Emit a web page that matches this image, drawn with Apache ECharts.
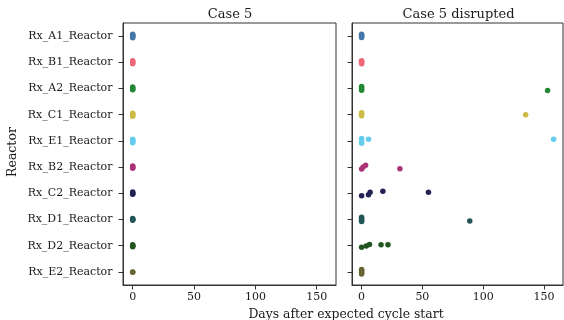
<!DOCTYPE html>
<html><head><meta charset="utf-8">
<script src="https://cdn.jsdelivr.net/npm/echarts@6/dist/echarts.min.js"></script>
<style>html,body{margin:0;padding:0;background:#fff}#c{width:564px;height:320px}</style>
</head><body><div id="c"></div>
<script>
const reactors = ['Rx_A1_Reactor','Rx_B1_Reactor','Rx_A2_Reactor','Rx_C1_Reactor','Rx_E1_Reactor','Rx_B2_Reactor','Rx_C2_Reactor','Rx_D1_Reactor','Rx_D2_Reactor','Rx_E2_Reactor'];
const colors = ['#4477AA','#EE6677','#228833','#CCBB44','#66CCEE','#AA3377','#222255','#225555','#225522','#666633'];
const xTicks = [0,50,100,150];
const panelTitles = ['Case 5','Case 5 disrupted'];

// Case 5: days after expected cycle start, and strip jitter (category units)
const case5Days = [
  [0,0,0,0,0],[0,0,0,0],[0,0,0,0],[0,0,0,0],[0,0,0,0,0],
  [0,0,0,0],[0,0,0,0],[0,0,0,0],[0,0,0,0],[0,0]
];
const case5Jitter = [
  [-0.07,-0.03,0.0,0.03,0.06],[-0.06,-0.02,0.02,0.06],[-0.06,-0.02,0.02,0.05],[-0.06,-0.02,0.02,0.06],[-0.06,-0.02,0.01,0.04,0.07],
  [-0.04,-0.01,0.02,0.04],[-0.05,-0.01,0.02,0.04],[-0.04,-0.01,0.01,0.03],[-0.04,-0.01,0.02,0.04],[0.0,0.01]
];
// Case 5 disrupted
const disruptedDays = [
  [0,0,0,0],[0,0,0,0],[0,0,0,0,153],[0,0,0,135],[0,0,0,5.7,158],
  [0,1.3,3.3,31.5],[0,5.7,7,17.5,55],[0,0,0,0,89],[0,3.8,6.5,16,21.7],[0,0,0,0,0]
];
const disruptedJitter = [
  [-0.07,-0.03,0.02,0.05],[-0.06,-0.02,0.02,0.06],[-0.08,-0.03,0.02,0.07,0.08],[-0.07,-0.02,0.04,0.0],[-0.09,0.02,0.09,-0.06,-0.06],
  [0.07,0.0,-0.07,0.06],[0.09,0.06,-0.04,-0.08,-0.04],[-0.09,-0.03,0.03,0.08,0.06],[0.06,0.01,-0.05,-0.04,-0.04],[-0.09,-0.04,0.0,0.04,0.08]
];

const FONT = 'DejaVu Serif';
const TXT = '#1a1a1a';
const chart = echarts.init(document.getElementById('c'));
const grids = [
  {left:123, top:23, width:213, height:262},
  {left:352, top:23, width:211, height:262}
];
const xAxes = [], yAxes = [], series = [];
[0,1].forEach(p => {
  xAxes.push({
    type:'value', gridIndex:p, min:-7.9, max:165.7,
    axisLine:{show:true,onZero:false,lineStyle:{color:'#333',width:1}},
    axisTick:{show:true,length:4.5,lineStyle:{color:'#333'},customValues:xTicks},
    axisLabel:{color:TXT,fontFamily:FONT,fontSize:11,margin:7,customValues:xTicks},
    splitLine:{show:false}
  });
  yAxes.push({
    type:'value', gridIndex:p, min:-0.5, max:9.5, inverse:true,
    axisLine:{show:true,onZero:false,lineStyle:{color:'#333',width:1}},
    axisTick:{show:true,length:4.5,lineStyle:{color:'#333'},customValues:reactors.map((_,i)=>i)},
    axisLabel:{show:p===0,color:TXT,fontFamily:FONT,fontSize:11,margin:10.5,customValues:reactors.map((_,i)=>i),formatter:v=>reactors[Math.round(v)]},
    splitLine:{show:false}
  });
  const days = p===0 ? case5Days : disruptedDays;
  const jit = p===0 ? case5Jitter : disruptedJitter;
  reactors.forEach((r,i) => {
    series.push({
      type:'scatter', name:r, xAxisIndex:p, yAxisIndex:p,
      symbolSize:5.5, itemStyle:{color:colors[i],opacity:1},
      data: days[i].map((d,k)=>[d, i + jit[i][k]]),
      silent:true
    });
  });
});
grids.forEach(g=>{g.show=true;g.borderColor='#333';g.borderWidth=1;g.backgroundColor='transparent';});
chart.setOption({
  animation:false,
  grid:grids,
  xAxis:xAxes, yAxis:yAxes, series:series,
  title:[
    {text:panelTitles[0],left:225,textAlign:'center',top:3,textStyle:{fontFamily:FONT,fontSize:13,fontWeight:'normal',color:TXT}},
    {text:panelTitles[1],left:453.5,textAlign:'center',top:3,textStyle:{fontFamily:FONT,fontSize:13,fontWeight:'normal',color:TXT}},
    {text:'Days after expected cycle start',left:341,textAlign:'center',top:304,textStyle:{fontFamily:FONT,fontSize:12.4,fontWeight:'normal',color:TXT}}
  ],
  graphic:[{type:'text',x:6,y:152,rotation:Math.PI/2,style:{text:'Reactor',font:'12.5px "DejaVu Serif"',fill:TXT,textAlign:'center',textVerticalAlign:'top'}}]
});
</script></body></html>
